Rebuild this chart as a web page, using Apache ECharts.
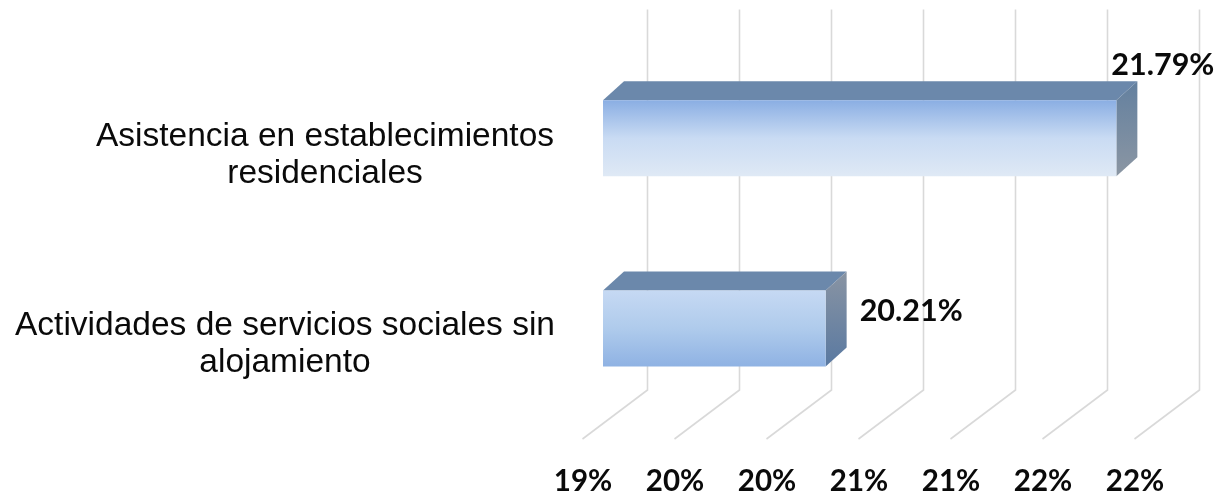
<!DOCTYPE html>
<html>
<head>
<meta charset="utf-8">
<style>html,body{margin:0;padding:0;background:#fff}#c{width:1224px;height:495px}</style>
<script src="https://cdn.jsdelivr.net/npm/echarts@6/dist/echarts.min.js"></script>
</head>
<body>
<div id="c"></div>
<script>
const categories = ['Asistencia en establecimientos\nresidenciales', 'Actividades de servicios sociales sin\nalojamiento'];
const values = [21.79, 20.21];
const valueLabels = ['21.79%', '20.21%'];
const ticks = [19, 19.5, 20, 20.5, 21, 21.5, 22];
const tickLabels = ['19%', '20%', '20%', '21%', '21%', '22%', '22%'];

const FLOOR_DX = 65, FLOOR_DY = 49;
const BAR_DX = 20, BAR_DY = -15.5, BAR_H = 76, DEPTH_X = 21, DEPTH_Y = 19;
const LABEL_OFFSET = [[-5, -35], [34, 21]];
const FRONT_FILL = [['#8aaee3', '#c9dbf3', '#dfe9f5'], ['#c6d9f3', '#afcbec', '#8fb2e3']];
const SIDE_FILL = [['#63809f', '#8b96a3'], ['#8994a3', '#5a79a1']];
const grad = (stops) => new echarts.graphic.LinearGradient(0, 0, 0, 1,
  stops.map((c, i) => ({ offset: i / (stops.length - 1), color: c })));

const chart = echarts.init(document.getElementById('c'), null, { renderer: 'canvas' });
chart.setOption({
  animation: false,
  backgroundColor: '#fff',
  grid: { left: 583, width: 552, top: 58.5, height: 380.5, outerBoundsMode: 'none' },
  xAxis: {
    type: 'value', min: 19, max: 22, interval: 0.5,
    axisLine: { show: false }, axisTick: { show: false }, splitLine: { show: false },
    axisLabel: {
      margin: 27, color: '#0a0a0a', fontFamily: 'Lato', fontWeight: 'bold', fontSize: 29.5,
      formatter: (v) => tickLabels[ticks.indexOf(v)]
    }
  },
  yAxis: {
    type: 'category', inverse: true, data: categories,
    axisLine: { show: false }, axisTick: { show: false }, splitLine: { show: false },
    axisLabel: {
      margin: 28, color: '#0a0a0a', fontFamily: 'Liberation Sans',
      formatter: (v, i) => v.split('\n').map(s => `{${i === 0 ? 'a' : 'b'}|${s}}`).join('\n'),
      rich: {
        a: { width: 460, align: 'center', fontSize: 33.5, lineHeight: 37, padding: [4, 0, 0, 0], fontFamily: 'Liberation Sans', color: '#0a0a0a' },
        b: { width: 540, align: 'center', fontSize: 33.5, lineHeight: 37, fontFamily: 'Liberation Sans', color: '#0a0a0a' }
      }
    }
  },
  series: [
    {
      type: 'custom', coordinateSystem: 'cartesian2d', clip: false, z: 1, silent: true,
      data: ticks.map(t => [t, 0]),
      renderItem(params, api) {
        const g = params.coordSys, x = api.coord([api.value(0), 0])[0], b = g.y + g.height;
        return {
          type: 'polyline',
          shape: { points: [[x - 0.5, b], [x + FLOOR_DX - 0.5, b - FLOOR_DY], [x + FLOOR_DX - 0.5, g.y - FLOOR_DY]] },
          style: { fill: 'none', stroke: '#d9d9d9', lineWidth: 1.6 }
        };
      }
    },
    {
      type: 'custom', coordinateSystem: 'cartesian2d', clip: false, z: 2, silent: true,
      data: values.map((v, i) => [v, i]),
      renderItem(params, api) {
        const i = params.dataIndex;
        const c = api.coord([api.value(0), api.value(1)]);
        const x0 = api.coord([19, 0])[0] + BAR_DX, x1 = c[0] + BAR_DX;
        const y0 = c[1] + BAR_DY - BAR_H / 2, y1 = y0 + BAR_H;
        return {
          type: 'group',
          children: [
            { type: 'polygon', shape: { points: [[x0, y0], [x0 + DEPTH_X, y0 - DEPTH_Y], [x1 + DEPTH_X, y0 - DEPTH_Y], [x1, y0]] },
              style: { fill: '#6b88ab' } },
            { type: 'polygon', shape: { points: [[x1, y0], [x1 + DEPTH_X, y0 - DEPTH_Y], [x1 + DEPTH_X, y1 - DEPTH_Y], [x1, y1]] },
              style: { fill: grad(SIDE_FILL[i]) } },
            { type: 'rect', shape: { x: x0, y: y0, width: x1 - x0, height: BAR_H },
              style: { fill: grad(FRONT_FILL[i]) } },
            { type: 'text', x: x1 + LABEL_OFFSET[i][0], y: y0 + LABEL_OFFSET[i][1],
              style: { text: valueLabels[i], fill: '#0a0a0a', font: 'bold 30.5px Lato', align: 'left', verticalAlign: 'middle' } }
          ]
        };
      }
    }
  ]
});
</script>
</body>
</html>
